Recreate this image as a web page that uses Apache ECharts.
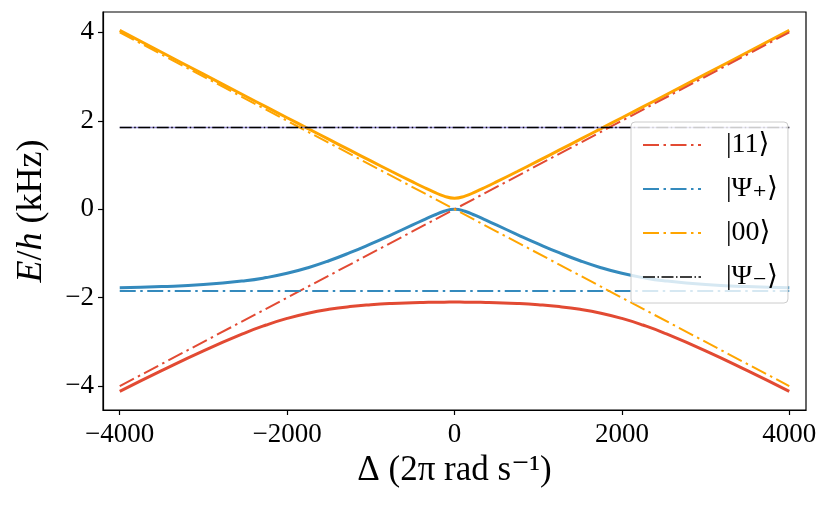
<!DOCTYPE html>
<html>
<head>
<meta charset="utf-8">
<script src="https://cdn.jsdelivr.net/npm/echarts@6/dist/echarts.min.js"></script>
<style>html,body{margin:0;padding:0;background:#fff}#c{width:830px;height:506px}</style>
</head>
<body>
<div id="c"></div>
<script>
// Detuning values (2π rad/s) at which the solid eigen-energy curves were read
const deltas = [-4000,-3500,-3000,-2500,-2250,-2000,-1750,-1500,-1250,-1000,-750,-500,-375,-250,-125,0,125,250,375,500,750,1000,1250,1500,1750,2000,2250,2500,3000,3500,4000];
// Upper (orange), middle (blue), lower (red) solid curves, kHz
const upperE  = [4.045,3.549,3.054,2.560,2.314,2.068,1.823,1.579,1.335,1.093,0.853,0.618,0.503,0.393,0.297,0.250,0.297,0.393,0.503,0.618,0.853,1.093,1.335,1.579,1.823,2.068,2.314,2.560,3.054,3.549,4.045];
const middleE = [-1.778,-1.750,-1.703,-1.616,-1.546,-1.449,-1.322,-1.165,-0.983,-0.783,-0.572,-0.355,-0.246,-0.140,-0.046,0.000,-0.046,-0.140,-0.246,-0.355,-0.572,-0.783,-0.983,-1.165,-1.322,-1.449,-1.546,-1.616,-1.703,-1.750,-1.778];
const lowerE  = [-4.117,-3.649,-3.201,-2.794,-2.618,-2.469,-2.351,-2.264,-2.202,-2.160,-2.131,-2.113,-2.107,-2.103,-2.101,-2.100,-2.101,-2.103,-2.107,-2.113,-2.131,-2.160,-2.202,-2.264,-2.351,-2.469,-2.618,-2.794,-3.201,-3.649,-4.117];
// Bare (uncoupled) levels, dash-dot lines: endpoints
const bareX     = [-4000, 4000];
const e11       = [-4, 4];
const e00       = [4, -4];
const ePsiPlus  = [-1.85, -1.85];
const ePsiMinus = [1.85, 1.85];
// Tick labels
const xTicks = [-4000, -2000, 0, 2000, 4000];
const yTicks = [-4, -2, 0, 2, 4];
const legendNames = ['|11⟩', '|Ψ₊⟩', '|00⟩', '|Ψ₋⟩'];

const pairs = (xs, ys) => xs.map((x, i) => [x, ys[i]]);
const FONT = '"Liberation Serif","DejaVu Serif",serif';
const RED = '#E24A33', BLUE = '#348ABD', ORANGE = '#FFA500', PURPLE = '#988ED5';
const DD = [16, 4.5, 2.5, 4.5];
const DDk = [12, 2.5, 1.5, 2.5];
const minusFmt = v => String(v).replace('-', '−');

const chart = echarts.init(document.getElementById('c'), null, {renderer: 'canvas'});
chart.setOption({
  animation: false,
  backgroundColor: '#fff',
  grid: {left: 103, right: 24, top: 12, bottom: 96, show: true, borderColor: '#000', borderWidth: 1.2, backgroundColor: 'transparent'},
  xAxis: {
    type: 'value', min: -4200, max: 4200,
    name: 'Δ (2π rad s⁻¹)', nameLocation: 'middle', nameGap: 42,
    nameTextStyle: {fontFamily: FONT, fontSize: 35, color: '#000'},
    axisLine: {show: true, onZero: false, lineStyle: {color: '#000', width: 1.2}},
    axisTick: {show: true, inside: false, length: 5, lineStyle: {color: '#000', width: 1.2}, customValues: xTicks},
    axisLabel: {show: true, margin: 11, fontFamily: FONT, fontSize: 27, color: '#000', customValues: xTicks, formatter: minusFmt},
    splitLine: {show: false}
  },
  yAxis: {
    type: 'value', min: -4.54, max: 4.46,
    name: '{i|E}/{i|h} (kHz)', nameLocation: 'middle', nameGap: 53,
    nameTextStyle: {fontFamily: FONT, fontSize: 36, color: '#000', rich: {i: {fontFamily: FONT, fontSize: 36, fontStyle: 'italic', color: '#000'}}},
    axisLine: {show: true, onZero: false, lineStyle: {color: '#000', width: 1.2}},
    axisTick: {show: true, inside: false, length: 5, lineStyle: {color: '#000', width: 1.2}, customValues: yTicks},
    axisLabel: {show: true, margin: 9, fontFamily: FONT, fontSize: 27, color: '#000', customValues: yTicks, formatter: minusFmt},
    splitLine: {show: false}
  },
  legend: {
    data: legendNames.map((n, i) => ({name: n, lineStyle: {width: i === 3 ? 1.5 : 2}})),
    orient: 'vertical', left: 631, top: 122,
    padding: [9, 10, 12, 11],
    itemWidth: 58, itemHeight: 14, itemGap: 16,
    backgroundColor: 'rgba(255,255,255,0.8)', borderColor: '#cccccc', borderWidth: 1, borderRadius: 4,
    textStyle: {fontFamily: FONT, fontSize: 28, color: '#000', padding: [0, 0, 0, 20]},
    itemStyle: {opacity: 0},
    lineStyle: {width: 'inherit', type: 'inherit'}
  },
  series: [
    {name: 'upper', type: 'line', data: pairs(deltas, upperE), smooth: true, symbol: 'none', lineStyle: {color: ORANGE, width: 3}, z: 2},
    {name: 'middle', type: 'line', data: pairs(deltas, middleE), smooth: true, symbol: 'none', lineStyle: {color: BLUE, width: 3}, z: 2},
    {name: 'lower', type: 'line', data: pairs(deltas, lowerE), smooth: true, symbol: 'none', lineStyle: {color: RED, width: 3}, z: 2},
    {name: 'psiMinusSolid', type: 'line', data: pairs(bareX, ePsiMinus), symbol: 'none', lineStyle: {color: PURPLE, width: 1.5}, z: 2},
    {name: legendNames[0], type: 'line', data: pairs(bareX, e11), symbol: 'none', color: RED, lineStyle: {color: RED, width: 2, type: DD}, z: 3},
    {name: legendNames[1], type: 'line', data: pairs(bareX, ePsiPlus), symbol: 'none', color: BLUE, lineStyle: {color: BLUE, width: 2, type: DD}, z: 3},
    {name: legendNames[2], type: 'line', data: pairs(bareX, e00), symbol: 'none', color: ORANGE, lineStyle: {color: ORANGE, width: 2, type: DD}, z: 3},
    {name: legendNames[3], type: 'line', data: pairs(bareX, ePsiMinus), symbol: 'none', color: '#000', lineStyle: {color: '#000', width: 1.5, type: DDk}, z: 3}
  ]
});
</script>
</body>
</html>
